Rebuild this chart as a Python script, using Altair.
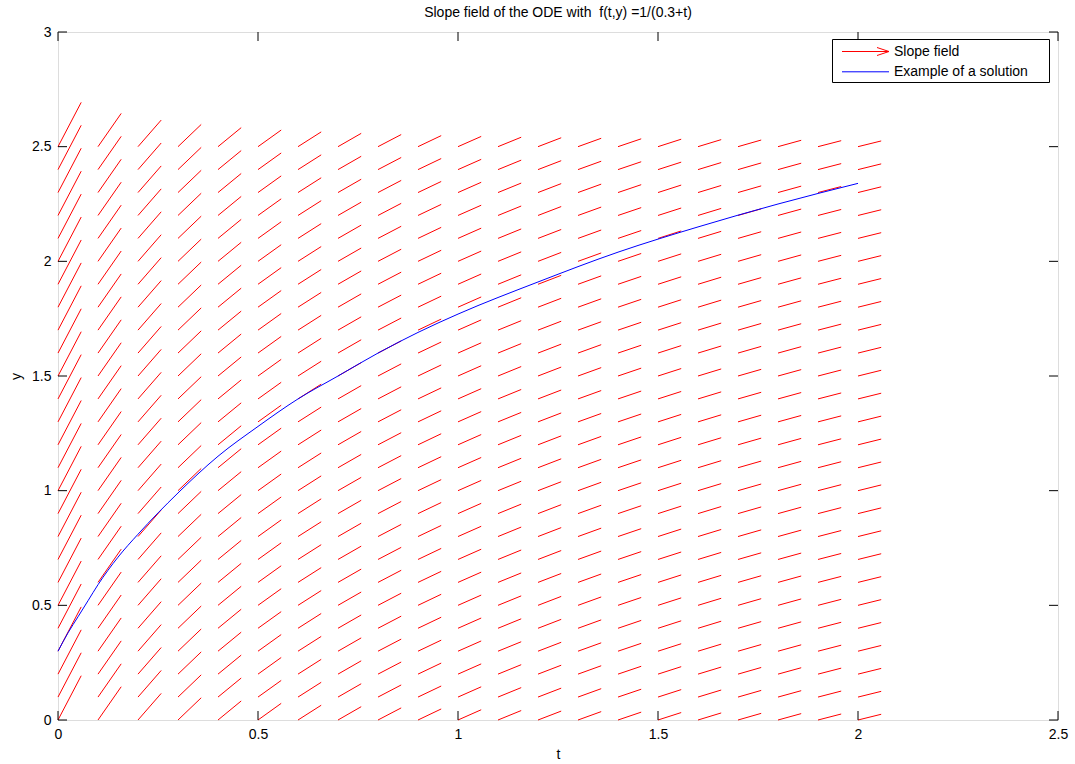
import altair as alt
import pandas as pd

# Grid of the slope field
t_grid = [0.0, 0.1, 0.2, 0.3, 0.4, 0.5, 0.6, 0.7, 0.8, 0.9, 1.0,
          1.1, 1.2, 1.3, 1.4, 1.5, 1.6, 1.7, 1.8, 1.9, 2.0]
y_grid = [0.0, 0.1, 0.2, 0.3, 0.4, 0.5, 0.6, 0.7, 0.8, 0.9, 1.0, 1.1, 1.2,
          1.3, 1.4, 1.5, 1.6, 1.7, 1.8, 1.9, 2.0, 2.1, 2.2, 2.3, 2.4, 2.5]
# f(t, y) = 1/(0.3+t) at each grid column
slopes = [3.33, 2.50, 2.00, 1.67, 1.43, 1.25, 1.11, 1.00, 0.91, 0.83, 0.77,
          0.71, 0.67, 0.63, 0.59, 0.56, 0.53, 0.50, 0.48, 0.45, 0.43]

# One solution curve, y(0) = 0.3
sol_t = [0.0, 0.025, 0.05, 0.075, 0.1, 0.15, 0.2, 0.3, 0.4, 0.5, 0.6, 0.7,
         0.8, 0.9, 1.0, 1.2, 1.4, 1.6, 1.8, 2.0]
sol_y = [0.30, 0.38, 0.45, 0.52, 0.59, 0.71, 0.81, 0.99, 1.15, 1.28, 1.40,
         1.50, 1.60, 1.69, 1.77, 1.91, 2.04, 2.15, 2.25, 2.34]

x_ticks = [0, 0.5, 1, 1.5, 2, 2.5]
y_ticks = [0, 0.5, 1, 1.5, 2, 2.5, 3]

legend_labels = ["Slope field", "Example of a solution"]
legend_colors = ["#ff0000", "#0000ff"]

W, H = 1000, 688
FONT = "Liberation Sans"
ARROW_SCALE = 0.058

field = pd.DataFrame(
    [{"t": t, "y": y, "slope": s} for t, s in zip(t_grid, slopes) for y in y_grid]
)

x_scale = alt.Scale(domain=[0, 2.5], nice=False, zero=False)
y_scale = alt.Scale(domain=[0, 3], nice=False, zero=False)

x_axis = alt.Axis(values=x_ticks, format="~g", ticks=False, domain=False, grid=False,
                  labelFont=FONT, labelFontSize=14, labelColor="black",
                  labelPadding=7, labelFlush=False,
                  title="t", titleFont=FONT, titleFontSize=14,
                  titleFontWeight="normal", titleColor="black", titlePadding=6)
y_axis = alt.Axis(values=y_ticks, format="~g", ticks=False, domain=False, grid=False,
                  labelFont=FONT, labelFontSize=14, labelColor="black",
                  labelPadding=7, labelFlush=False,
                  title="y", titleFont=FONT, titleFontSize=14,
                  titleFontWeight="normal", titleColor="black", titlePadding=8)

segments = alt.Chart(field).transform_calculate(
    t_end=f"datum.t + {ARROW_SCALE}",
    y_end=f"datum.y + {ARROW_SCALE} * datum.slope",
).mark_rule(color="#ff0000", strokeWidth=1).encode(
    x=alt.X("t:Q", scale=x_scale, axis=x_axis),
    x2="t_end:Q",
    y=alt.Y("y:Q", scale=y_scale, axis=y_axis),
    y2="y_end:Q",
)

solution = alt.Chart(pd.DataFrame({"t": sol_t, "y": sol_y})).mark_line(
    color="#0000ff", strokeWidth=1, interpolate="monotone"
).encode(x=alt.X("t:Q", scale=x_scale), y=alt.Y("y:Q", scale=y_scale))

# Inward ticks on all four sides of the box
xt = pd.DataFrame({"v": x_ticks})
yt = pd.DataFrame({"v": y_ticks})
TL = 9
tick_style = dict(color="black", strokeWidth=1)
ticks_bottom = alt.Chart(xt).mark_rule(**tick_style).encode(
    x=alt.X("v:Q", scale=x_scale), y=alt.value(H), y2=alt.value(H - TL))
ticks_top = alt.Chart(xt).mark_rule(**tick_style).encode(
    x=alt.X("v:Q", scale=x_scale), y=alt.value(0), y2=alt.value(TL))
ticks_left = alt.Chart(yt).mark_rule(**tick_style).encode(
    y=alt.Y("v:Q", scale=y_scale), x=alt.value(0), x2=alt.value(TL))
ticks_right = alt.Chart(yt).mark_rule(**tick_style).encode(
    y=alt.Y("v:Q", scale=y_scale), x=alt.value(W), x2=alt.value(W - TL))

# Legend box in the upper right corner
legend = pd.DataFrame({
    "label": legend_labels,
    "color": legend_colors,
    "py": [19.5, 39.5],
    "ly": [19.5, 39.8],
})
one = pd.DataFrame({"k": [0]})
legend_box = alt.Chart(one).mark_rect(
    fill="white", stroke="black", strokeWidth=1
).encode(x=alt.value(774.5), x2=alt.value(991.5), y=alt.value(7.5), y2=alt.value(50.5))
leg_lines = alt.Chart(legend).mark_rule(strokeWidth=1).encode(
    x=alt.value(784), x2=alt.value(831),
    y=alt.Y("ly:Q", scale=None),
    color=alt.Color("color:N", scale=None),
)
head = pd.DataFrame({"y0": [15.5, 23.5], "y1": [19.5, 19.5]})
leg_head = alt.Chart(head).mark_rule(color="#ff0000", strokeWidth=1).encode(
    x=alt.value(819), x2=alt.value(831),
    y=alt.Y("y0:Q", scale=None), y2="y1:Q",
)
leg_txt = alt.Chart(legend).mark_text(
    font=FONT, fontSize=14, color="black", align="left", baseline="middle"
).encode(x=alt.value(836), y=alt.Y("py:Q", scale=None), text="label:N")

chart = alt.layer(
    segments, solution,
    ticks_bottom, ticks_top, ticks_left, ticks_right,
    legend_box, leg_lines, leg_head, leg_txt,
).properties(
    width=W, height=H,
    title=alt.TitleParams("Slope field of the ODE with \u00a0f(t,y) =1/(0.3+t)",
                          font=FONT, fontSize=14, fontWeight="normal",
                          color="black", anchor="middle", frame="group", offset=5),
    autosize=alt.AutoSizeParams(type="none"),
    padding={"left": 58, "top": 32, "right": 17, "bottom": 44},
).configure_view(stroke="black", strokeWidth=1).configure(background="white")

chart.save("out.html", embed_options={"renderer": "svg", "actions": False})
